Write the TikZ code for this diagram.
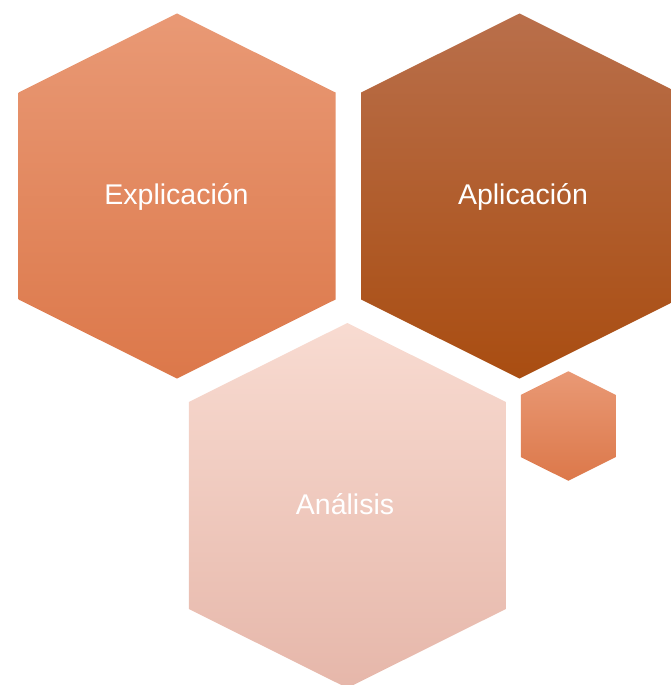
\documentclass[tikz,border=0pt]{standalone}
\usepackage{fontspec}
\setmainfont{Liberation Sans}
\usetikzlibrary{positioning}
\definecolor{OrangeTop}{RGB}{233,153,117}
\definecolor{OrangeMid}{RGB}{236,138,92}
\definecolor{OrangeBot}{RGB}{220,120,74}
\definecolor{RustTop}{RGB}{185,111,75}
\definecolor{RustMid}{RGB}{178,87,26}
\definecolor{RustBot}{RGB}{169,77,17}
\definecolor{PinkTop}{RGB}{248,219,209}
\definecolor{PinkMid}{RGB}{249,209,196}
\definecolor{PinkBot}{RGB}{230,183,170}
\tikzset{
  orangehex/.style={top color=OrangeTop,middle color=OrangeMid,bottom color=OrangeBot},
  rusthex/.style={top color=RustTop,middle color=RustMid,bottom color=RustBot},
  pinkhex/.style={top color=PinkTop,middle color=PinkMid,bottom color=PinkBot},
  hexlabel/.style={anchor=base,text=white,inner sep=0pt,font=\fontsize{28.5}{34}\selectfont},
}

\begin{document}
\begin{tikzpicture}[x=1pt,y=-1pt]
\useasboundingbox (0,0) rectangle (671,685);
\begin{scope}
\clip (0,0) rectangle (671,685);
\foreach \cx/\cy/\sc/\look in {177/196/1/orangehex,519.5/196/1/rusthex,
    347.3/505.5/1/pinkhex,568.3/426/0.3/orangehex}{
  \begin{scope}[shift={(\cx,\cy)},scale=\sc]
    \shade[\look] (0,-182.5) -- (158.5,-103.5) -- (158.5,103.5) -- (0,182.5)
      -- (-158.5,103.5) -- (-158.5,-103.5) -- cycle;
  \end{scope}
}
\end{scope}
\node[hexlabel] (explicacion) at (176.5,204.3) {Explicación};
\node[hexlabel] (aplicacion) at (523,204.3) {Aplicación};
\node[hexlabel] (analisis) at (345,514) {Análisis};
\end{tikzpicture}
\end{document}
